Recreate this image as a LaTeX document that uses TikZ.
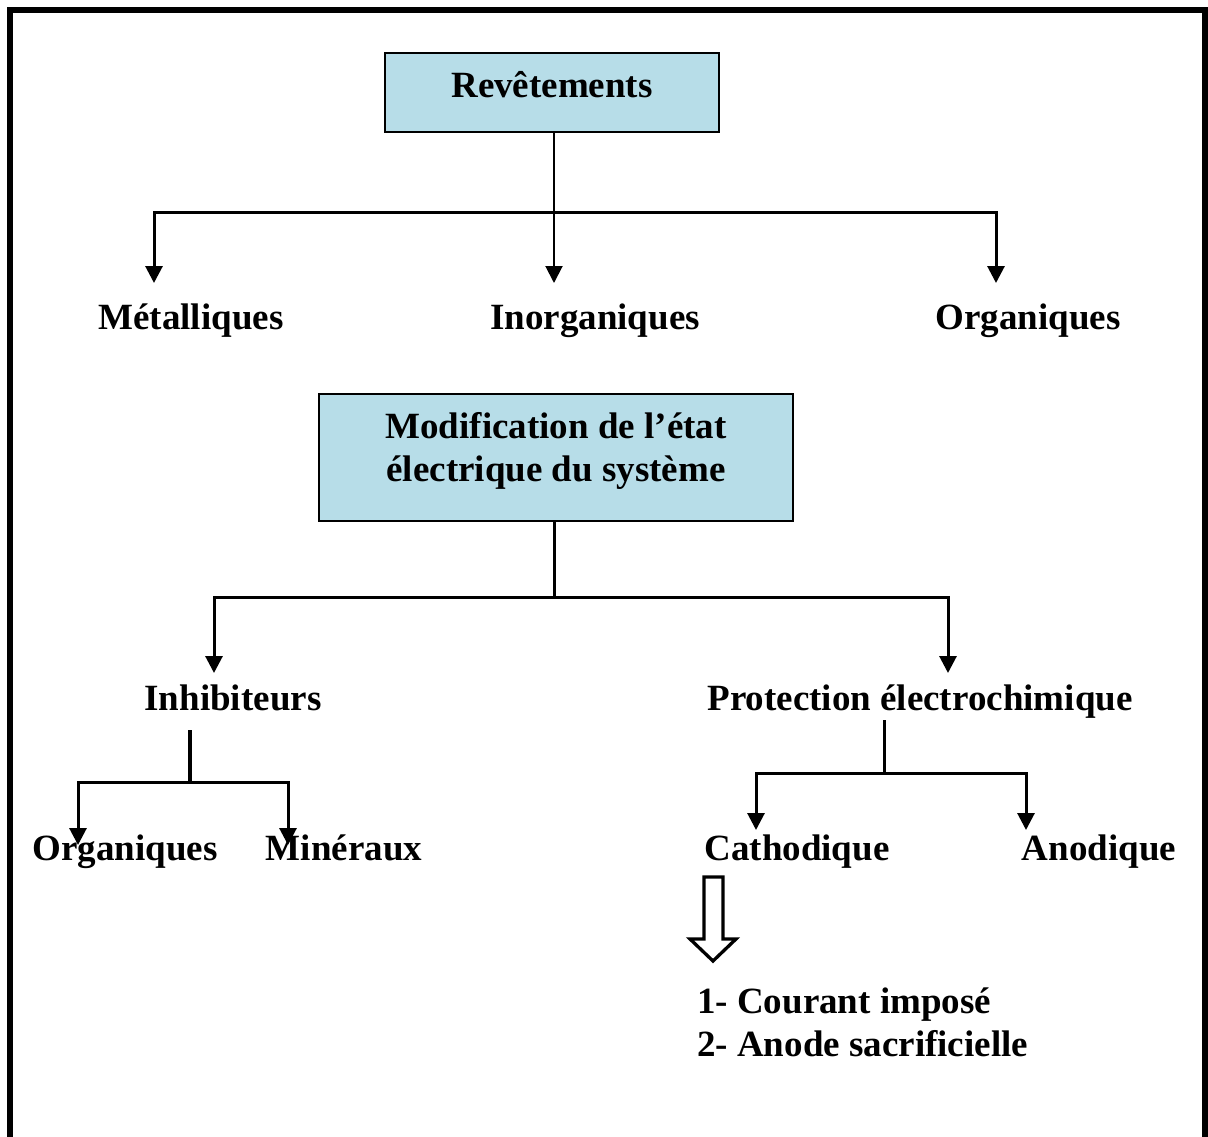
\documentclass[tikz,border=0pt]{standalone}
\usepackage{fontspec}
\setmainfont{Liberation Serif}
\usetikzlibrary{arrows.meta}
\definecolor{boxblue}{RGB}{183,221,232}
\tikzset{
    cadre/.style={draw=black,line width=2pt,fill=boxblue,align=center,inner sep=0pt,
        font=\bfseries\fontsize{37}{43}\selectfont},
    etiq/.style={inner sep=0pt,anchor=base,font=\bfseries\fontsize{37}{43}\selectfont},
    trait/.style={line width=3pt},
    fleche/.style={line width=3pt,-{Triangle[width=17pt,length=17pt]}},
}

\begin{document}
\begin{tikzpicture}[x=1pt,y=-1pt]
    \useasboundingbox (0,0) rectangle (1208,1137);
    \begin{scope}
        \clip (0,0) rectangle (1208,1137);
        \draw[line width=6pt] (10,10) rectangle (1204.5,1180);
        \end{scope}

    % boites
    \node[cadre,minimum width=334pt,minimum height=79pt,text height=26pt,text depth=15pt] (rev) at (552,92.5) {Rev\^etements};
    \node[cadre,minimum width=474pt,minimum height=127pt] (mod) at (556,457.5)
        {Modification de l’état\\électrique du système\rule[-21pt]{0pt}{21pt}};

    % etiquettes
    \node[etiq] (met) at (191,329) {Métalliques};
    \node[etiq] (inorg) at (595,329) {Inorganiques};
    \node[etiq] (org) at (1028,329) {Organiques};
    \node[etiq] (inh) at (233,710) {Inhibiteurs};
    \node[etiq] (prot) at (920,710) {Protection électrochimique};
    \node[etiq] (orgb) at (125,860) {Organiques};
    \node[etiq] (min) at (344,860) {Minéraux};
    \node[etiq] (cath) at (797,860) {Cathodique};
    \node[etiq] (ano) at (1099,860) {Anodique};
    \node[etiq,anchor=base west,align=left] (liste) at (697,1056) {1- Courant imposé\\2- Anode sacrificielle};

    % branchements
    \coordinate (j0) at (554,212);
    \coordinate (e1) at (154,283);
    \coordinate (e2) at (554,283);
    \coordinate (e3) at (996,283);
    \draw[fleche,line width=2pt] (e2 |- rev.south) -- (e2);
    \draw[fleche] (j0) -| (e1);
    \draw[fleche] (j0) -| (e3);

    \coordinate (k0) at (554,597);
    \coordinate (f1) at (214,673);
    \coordinate (f2) at (948,673);
    \draw[trait] (k0 |- mod.south) -- (k0);
    \draw[fleche] (k0) -| (f1);
    \draw[fleche] (k0) -| (f2);

    \coordinate (l1) at (190,730);
    \coordinate (l0) at (190,782);
    \coordinate (g1) at (78,845);
    \coordinate (g2) at (288,845);
    \draw[line width=4.5pt] (l1) -- (l0);
    \draw[fleche] (l0) -| (g1);
    \draw[fleche] (l0) -| (g2);

    \coordinate (m1) at (884,720);
    \coordinate (m0) at (884,773);
    \coordinate (h1) at (756,830);
    \coordinate (h2) at (1026,830);
    \draw[trait] (m1) -- (m0);
    \draw[fleche] (m0) -| (h1);
    \draw[fleche] (m0) -| (h2);

    % fleche creuse
    \draw[line width=3.3pt,line join=miter] (704,877) -- (723,877) -- (723,939) -- (736,939)
        -- (713,961) -- (690,939) -- (704,939) -- cycle;

\end{tikzpicture}
\end{document}
